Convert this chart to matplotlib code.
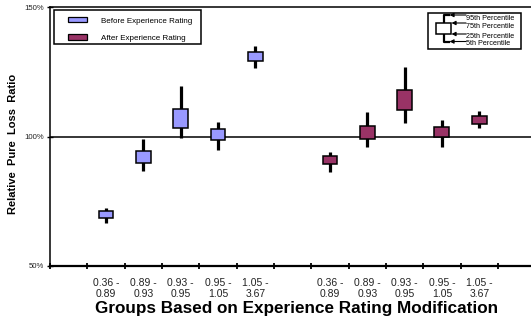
import numpy as np
import matplotlib
matplotlib.use("Agg")
import matplotlib.pyplot as plt
from matplotlib.patches import Rectangle

plt.rcParams["font.family"] = ["Liberation Sans", "DejaVu Sans"]

## DATA: percentiles of the relative pure loss ratio (%) per group
groups = ["0.36 -\n0.89", "0.89 -\n0.93", "0.93 -\n0.95", "0.95 -\n1.05", "1.05 -\n3.67"]
before_p05 = [66.5, 86.7, 99.5, 94.8, 126.6]
before_p25 = [68.7, 89.7, 103.4, 98.6, 129.2]
before_p75 = [71.2, 94.5, 110.5, 102.8, 132.6]
before_p95 = [72.3, 98.9, 119.5, 105.5, 134.9]
after_p05 = [86.2, 95.8, 105.1, 95.8, 103.2]
after_p25 = [89.4, 99.0, 110.4, 99.8, 105.0]
after_p75 = [92.5, 104.2, 117.8, 103.7, 108.0]
after_p95 = [94.1, 109.3, 126.7, 106.3, 109.7]

BLUE = "#9999FF"
MAROON = "#993366"

fig = plt.figure(figsize=(5.31, 3.20), dpi=100)
W, H = 531, 320
ax = fig.add_axes([50 / W, 1 - 266 / H, (W - 50) / W, 259 / H])

# category slots: 0 empty, 1-5 before, 6 empty, 7-11 after
before_x = np.arange(1, 6)
after_x = np.arange(7, 12)


def draw_boxes(x, p05, p25, p75, p95, color):
    ax.vlines(x, p05, p95, color="black", lw=2.3, zorder=3)
    lo = np.array(p25)
    hi = np.array(p75)
    ax.bar(x, hi - lo, bottom=lo, width=0.4, color=color,
           edgecolor="black", linewidth=1.1, zorder=4)


draw_boxes(before_x, before_p05, before_p25, before_p75, before_p95, BLUE)
draw_boxes(after_x, after_p05, after_p25, after_p75, after_p95, MAROON)

ax.axhline(100, color="black", lw=1.1, zorder=2)

ax.set_xlim(-0.5, -0.5 + 481 / 37.33)
ax.set_ylim(50, 150)
ax.set_yticks([50, 100, 150])
ax.set_yticklabels(["50%", "100%", "150%"], fontsize=5.6, color="#222222")
ax.tick_params(axis="y", direction="inout", length=4, width=1, pad=2)

ax.set_xticks(np.arange(-0.5, 12, 1))
ax.set_xticklabels([])
ax.tick_params(axis="x", which="major", direction="inout", length=5, width=1.3)
ax.set_xticks(np.concatenate([before_x, after_x]), minor=True)
ax.set_xticklabels(groups + groups, minor=True, fontsize=7.5, color="#222222",
                   linespacing=1.1)
ax.tick_params(axis="x", which="minor", length=0, pad=9)

ax.spines["right"].set_visible(False)
ax.spines["left"].set_linewidth(1.1)
ax.spines["top"].set_linewidth(1.1)
ax.spines["bottom"].set_linewidth(1.6)

fig.text(13 / W, 1 - 144 / H, "Relative  Pure  Loss  Ratio", rotation=90,
         ha="center", va="center", fontsize=8, fontweight="bold")
fig.text(297 / W, 1 - 308 / H, "Groups Based on Experience Rating Modification",
         ha="center", va="center", fontsize=12.3, fontweight="bold")

# overlay in pixel units for the two keys
ov = fig.add_axes([0, 0, 1, 1], zorder=10)
ov.set_xlim(0, W)
ov.set_ylim(H, 0)
ov.axis("off")
ov.patch.set_alpha(0)

# series key
ov.add_patch(Rectangle((54, 10), 146.5, 34.3, fill=False, ec="black", lw=1.1))
ov.add_patch(Rectangle((67.5, 16.5), 19.5, 5.5, fc=BLUE, ec="black", lw=0.9))
ov.add_patch(Rectangle((67.5, 34), 19.5, 5.5, fc=MAROON, ec="black", lw=0.9))
ov.text(101, 21.3, "Before Experience Rating", fontsize=5.8, va="center")
ov.text(101, 39, "After Experience Rating", fontsize=5.8, va="center")

# percentile key
ov.add_patch(Rectangle((427.5, 12.5), 93.5, 36, fill=False, ec="black", lw=1.1))
ov.plot([449, 443.5, 443.5, 449], [15, 15, 41.5, 41.5], color="black", lw=1.6)
ov.add_patch(Rectangle((436, 23), 15, 11, fc="white", ec="black", lw=1.1, zorder=3))
for yy, tip in [(15, 449.5), (23, 451.5), (34, 451.5), (41.5, 449.5)]:
    ov.annotate("", xy=(tip, yy), xytext=(466, yy),
                arrowprops=dict(arrowstyle="-|>", lw=0.8, color="black",
                                mutation_scale=6, shrinkA=0, shrinkB=0))
for yy, txt in [(19, "95th Percentile"), (26.5, "75th Percentile"),
                (36, "25th Percentile"), (43.3, "5th Percentile")]:
    ov.text(465.5, yy, txt, fontsize=5.2, va="center")

fig.savefig("out.png", dpi=100)
